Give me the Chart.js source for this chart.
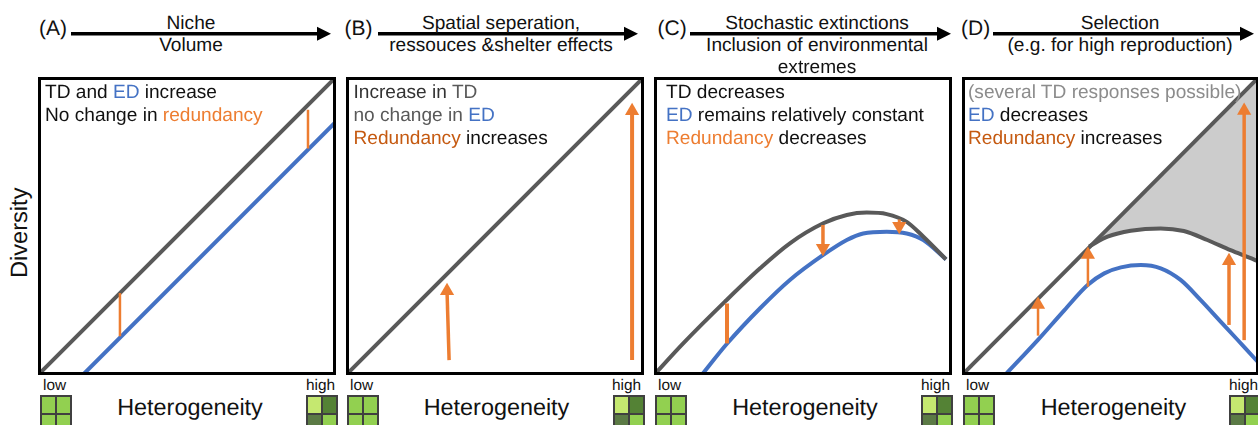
<!DOCTYPE html>
<html>
<head>
<meta charset="utf-8">
<style>
  html, body { margin: 0; padding: 0; background: #fff; overflow: hidden; }
  #page { position: relative; width: 1258px; height: 425px; overflow: hidden; font-family: "Liberation Sans", sans-serif; color: #111; text-rendering: geometricPrecision; }
  .panel { position: absolute; top: 77px; height: 298px; }
  .panel canvas { display: block; }
  .txt { position: absolute; white-space: nowrap; line-height: 1; }
  .mid { transform: translateX(-50%); }
  .icon { position: absolute; top: 395px; width: 28px; height: 34px; border: 2px solid #404040; display: grid; grid-template-columns: 1fr 1fr; grid-template-rows: 1fr 1fr; gap: 2px; background: #404040; }
  .blue { color: #4472C4; } .orange { color: #ED7D31; } .dkorange { color: #C55A11; } .grey { color: #595959; } .ltgrey { color: #8C8C8C; }
</style>
</head>
<body>
<div id="page"></div>
<script src="https://cdn.jsdelivr.net/npm/chart.js@4/dist/chart.umd.min.js"></script>
<script>
/* values are in % of the panel axis */
const TD_LINEAR_X = [0, 100];
const TD_LINEAR_Y = [0, 100];

const A_ED_X = [15, 100];
const A_ED_Y = [0, 85];
const A_ARROWS = [[27.5, 13, 27.5, 27.5, 2.5, 0], [90.6, 76, 90.6, 89, 2.5, 0]];

const B_ARROWS = [[34.6, 5, 33.9, 28.2, 3.5, 1], [96, 5, 96, 88.6, 4, 1]];

const C_TD_X = [0, 9.8, 23.8, 35.6, 45.6, 56.8, 64.7, 71.4, 78.1, 84.8, 90.4, 98];
const C_TD_Y = [0, 10.6, 24.6, 35.8, 44.2, 50.9, 53.7, 54.5, 54, 51.4, 46.4, 38.8];
const C_ED_X = [16, 24.4, 35.6, 45.6, 56.8, 64.7, 70.2, 78.1, 84.8, 90.4, 98];
const C_ED_Y = [0, 10.4, 22.4, 31.9, 40.3, 45.3, 47.5, 48.1, 47.5, 45.3, 38.8];
const C_ARROWS = [[24.5, 10.6, 24.5, 24, 4, 0], [56.7, 50.3, 56.7, 42.6, 3.5, -1], [82.3, 52.2, 82.3, 50, 3, -1]];

const D_TD_LOW_X = [42.8, 49, 56.8, 66.9, 74.7, 82.6, 90.4, 98.2, 100];
const D_TD_LOW_Y = [43.1, 46.4, 48.4, 49.2, 48.3, 45.3, 41.9, 38.8, 38];
const D_TD_HIGH_Y = [42.8, 49, 56.8, 66.9, 74.7, 82.6, 90.4, 98.2, 100];
const D_ED_X = [14.5, 25.5, 34.5, 42.3, 47.9, 53.5, 60.2, 66.9, 73.6, 80.3, 87, 92.6, 98.4, 100];
const D_ED_Y = [0, 11.7, 21.8, 30.2, 34.1, 36.1, 36.9, 35.8, 31.9, 25.2, 18, 12, 5.7, 4];
const D_ARROWS = [[25.6, 13.2, 25.6, 23.6, 2.5, 1], [42.4, 29.6, 42.4, 40.4, 2.5, 1], [89.9, 16.8, 89.9, 38.3, 3.5, 1], [95, 11.7, 95, 88.7, 3.5, 1]];

const PANEL_LEFT = [38, 346, 654, 962];
const PANEL_WIDTH = [298, 298, 298, 297];
const GREY = "#595959", BLUE = "#4472C4", ORANGE = "#ED7D31";

const pts = (xs, ys) => xs.map((x, i) => ({ x, y: ys[i] }));

// lower "order" paints on top: arrows, then TD, then ED, then the grey area
function curve(xs, ys, color, order, extra) {
  return Object.assign({ data: pts(xs, ys), borderColor: color, borderWidth: 4, pointRadius: 0, cubicInterpolationMode: "monotone", fill: false, order }, extra || {});
}
// arrow row = tail x, tail y, head x, head y, width, direction (0 = plain bar)
function arrow(a) {
  return {
    data: [{ x: a[0], y: a[1] }, { x: a[2], y: a[3] }],
    borderColor: ORANGE, backgroundColor: ORANGE, borderWidth: a[4], order: 0,
    pointStyle: "triangle", pointRadius: [0, a[5] ? 8.2 : 0], pointBorderWidth: 0,
    pointRotation: a[5] < 0 ? 180 : 0, fill: false
  };
}

const frame = {
  id: "frame",
  afterDatasetsDraw(chart) {
    const { ctx, chartArea: c } = chart;
    ctx.save();
    ctx.strokeStyle = "#000";
    ctx.lineWidth = 3;
    ctx.strokeRect(c.left + 1.5, c.top + 1.5, c.width - 3, c.height - 3);
    ctx.restore();
  }
};

const page = document.getElementById("page");

function panel(i, datasets) {
  const wrap = document.createElement("div");
  wrap.className = "panel";
  wrap.style.left = PANEL_LEFT[i] + "px";
  wrap.style.width = PANEL_WIDTH[i] + "px";
  const canvas = document.createElement("canvas");
  canvas.width = PANEL_WIDTH[i]; canvas.height = 298;
  wrap.appendChild(canvas);
  page.appendChild(wrap);
  new Chart(canvas, {
    type: "scatter",
    data: { datasets: datasets.map(d => Object.assign({ showLine: true }, d)) },
    options: {
      responsive: false, animation: false, devicePixelRatio: 1,
      layout: { padding: 0, autoPadding: false },
      plugins: { legend: { display: false }, tooltip: { enabled: false } },
      scales: {
        x: { type: "linear", min: 0, max: 100, display: false },
        y: { type: "linear", min: 0, max: 100, display: false }
      }
    },
    plugins: [frame]
  });
}

function text(str, x, yMid, size, centered) {
  const d = document.createElement("div");
  d.className = "txt" + (centered ? " mid" : "");
  d.style.left = x + "px";
  d.style.top = (yMid + 1 - size / 2) + "px";
  d.style.fontSize = size + "px";
  d.innerHTML = str;
  page.appendChild(d);
  return d;
}

/* panels */
panel(0, [
  curve(TD_LINEAR_X, TD_LINEAR_Y, GREY, 1),
  curve(A_ED_X, A_ED_Y, BLUE, 2),
  ...A_ARROWS.map(arrow)
]);
panel(1, [
  curve(TD_LINEAR_X, TD_LINEAR_Y, GREY, 1),
  ...B_ARROWS.map(arrow)
]);
panel(2, [
  curve(C_TD_X, C_TD_Y, GREY, 1),
  curve(C_ED_X, C_ED_Y, BLUE, 2),
  ...C_ARROWS.map(arrow)
]);
panel(3, [
  curve(D_TD_LOW_X, D_TD_HIGH_Y, "rgba(0,0,0,0)", 3, { borderWidth: 0, cubicInterpolationMode: "default", tension: 0, fill: "+1", backgroundColor: "#CCCCCC" }),
  curve(D_TD_LOW_X, D_TD_LOW_Y, GREY, 1),
  curve(TD_LINEAR_X, TD_LINEAR_Y, GREY, 1),
  curve(D_ED_X, D_ED_Y, BLUE, 2),
  ...D_ARROWS.map(arrow)
]);

/* header arrows */
const HEAD_ARROWS = [[71, 331], [378, 638], [690, 951], [993, 1254]];
const svgNS = "http://www.w3.org/2000/svg";
const svg = document.createElementNS(svgNS, "svg");
svg.setAttribute("width", 1258); svg.setAttribute("height", 60);
svg.style.position = "absolute"; svg.style.left = 0; svg.style.top = 0;
HEAD_ARROWS.forEach(([a, b]) => {
  const l = document.createElementNS(svgNS, "line");
  l.setAttribute("x1", a); l.setAttribute("x2", b - 12); l.setAttribute("y1", 33.7); l.setAttribute("y2", 33.7);
  l.setAttribute("stroke", "#000"); l.setAttribute("stroke-width", 3.5);
  svg.appendChild(l);
  const h = document.createElementNS(svgNS, "polygon");
  h.setAttribute("points", `${b - 14},26.7 ${b},33.7 ${b - 14},40.7`);
  svg.appendChild(h);
});
page.appendChild(svg);

/* texts */
const LETTERS = [["(A)", 39], ["(B)", 344.5], ["(C)", 657.5], ["(D)", 961]];
LETTERS.forEach(l => text(l[0], l[1], 27, 21));

const S = 19.1;
text("Niche", 191, 23, S, true);
text("Volume", 191, 45, S, true);
text("Spatial seperation,", 501, 23, S, true);
text("ressouces &amp;shelter effects", 501, 45, S, true);
text("Stochastic extinctions", 817, 23, S, true);
text("Inclusion of environmental", 817, 45, S, true);
text("extremes", 817, 67, S, true);
text("Selection", 1120, 23, S, true);
text("(e.g. for high reproduction)", 1120, 45, S, true);

text('TD and <span class="blue">ED</span> increase', 45, 92, S);
text('No change in <span class="orange">redundancy</span>', 45, 115, S);
text('<span style="color:#333">Increase in</span> <span class="grey">TD</span>', 353.5, 92, S);
text('<span class="grey">no change in</span> <span class="blue">ED</span>', 353.5, 115, S);
text('<span class="dkorange">Redundancy</span> increases', 353.5, 138, S);
text('TD decreases', 666, 92, S);
text('<span class="blue">ED</span> remains relatively constant', 666, 115, S);
text('<span class="orange">Redundancy</span> decreases', 666, 138, S);
text('<span class="ltgrey">(several TD responses possible)</span>', 968, 92, S);
text('<span class="blue">ED</span> decreases', 968, 115, S);
text('<span class="dkorange">Redundancy</span> increases', 968, 138, S);

const xlab = [190, 496.5, 805, 1113.5];
xlab.forEach(x => text("Heterogeneity", x, 407, 23.4, true));
const LOW_X = [43, 350, 658, 966], HIGH_X = [306, 612, 921, 1229];
LOW_X.forEach(x => text("low", x, 385, 15.4));
HIGH_X.forEach(x => text("high", x, 385, 15.4));

const yl = text("Diversity", 21, 232, 23.6, true);
yl.style.transform = "translate(-50%,0) rotate(-90deg)";

/* habitat icons */
const LOW_ICON = ["#92D050", "#92D050", "#92D050", "#92D050"];
const HIGH_ICON = ["#C5E870", "#548235", "#5B7A45", "#92D050"];
const LOW_ICON_X = [40, 347, 655, 963], HIGH_ICON_X = [306, 613, 921, 1229];
function icon(x, colors) {
  const d = document.createElement("div");
  d.className = "icon";
  d.style.left = x + "px";
  colors.forEach(c => { const s = document.createElement("div"); s.style.background = c; d.appendChild(s); });
  page.appendChild(d);
}
LOW_ICON_X.forEach(x => icon(x, LOW_ICON));
HIGH_ICON_X.forEach(x => icon(x, HIGH_ICON));
</script>
</body>
</html>
